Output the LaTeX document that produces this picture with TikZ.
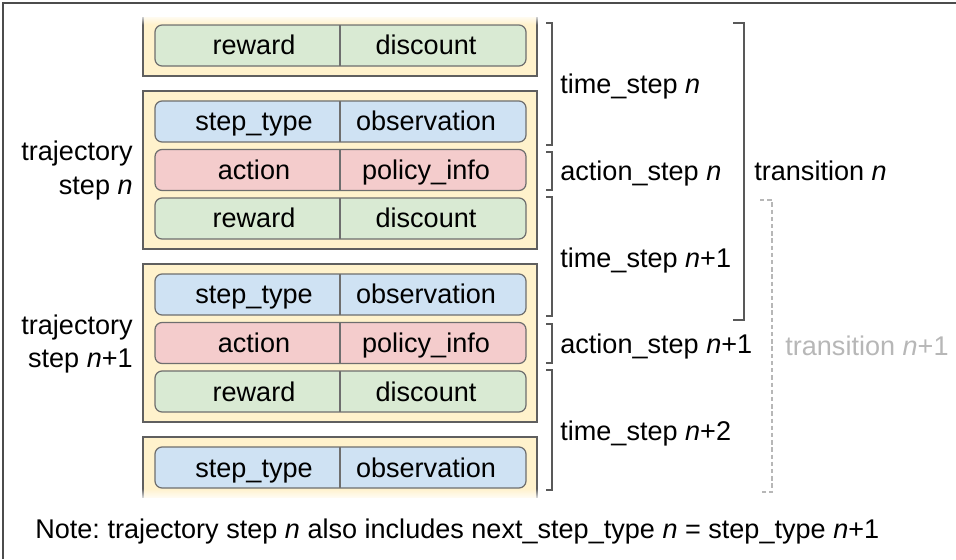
\documentclass[tikz,border=0pt]{standalone}
\usepackage{fontspec}
\setmainfont{Liberation Sans}
\usetikzlibrary{fadings}
\frenchspacing

\definecolor{boxfill}{HTML}{FFF2CC}
\definecolor{boxline}{HTML}{5F5F5F}
\definecolor{rowline}{HTML}{6E6E6E}
\definecolor{greenrow}{HTML}{D9EAD3}
\definecolor{bluerow}{HTML}{CFE2F3}
\definecolor{redrow}{HTML}{F4CCCC}
\definecolor{brkline}{HTML}{595959}
\definecolor{faintgray}{HTML}{B7B7B7}

\tikzset{
  txtfont/.style={font=\fontsize{15.4}{18.8}\selectfont},
  stepbox/.style={fill=boxfill,draw=boxline,line width=0.9pt},
  rowbox/.style={draw=rowline,line width=0.7pt,rounded corners=4pt},
  celltext/.style={txtfont,inner sep=0pt,text height=13.1pt,text depth=2.3pt},
  lbl/.style={celltext,anchor=west},
  brk/.style={draw=brkline,line width=0.8pt},
}

\begin{document}
\begin{tikzpicture}[x=0.02cm,y=-0.02cm]
\useasboundingbox (0,0) rectangle (956,559);
\draw[line width=0.6pt,black!70] (3,559) -- (3,3) -- (956,3);

% cut-off box on top
\fill[boxfill] (143,17) rectangle (537,76);
\draw[boxline,line width=0.9pt] (143,17) -- (143,76) -- (537,76) -- (537,17);
\draw[rowbox,fill=greenrow] (155,25) rectangle (526,66);
\draw[rowline,line width=0.7pt] (340,25) -- (340,66);
\node[celltext] (rw0) at (254,45.5) {reward};
\node[celltext] (dc0) at (426,45.5) {discount};
\fill[white,path fading=south] (141,14) rectangle (539,24.5);

% trajectory step n
\draw[stepbox] (143,91) rectangle (537,249);
\draw[rowbox,fill=bluerow] (155,101) rectangle (526,142);
\draw[rowline,line width=0.7pt] (340,101) -- (340,142);
\node[celltext] (st1) at (254,121.5) {step\_type};
\node[celltext] (ob1) at (426,121.5) {observation};
\draw[rowbox,fill=redrow] (155,149.5) rectangle (526,190.5);
\draw[rowline,line width=0.7pt] (340,149.5) -- (340,190.5);
\node[celltext] (ac1) at (254,170) {action};
\node[celltext] (pi1) at (426,170) {policy\_info};
\draw[rowbox,fill=greenrow] (155,198) rectangle (526,239);
\draw[rowline,line width=0.7pt] (340,198) -- (340,239);
\node[celltext] (rw1) at (254,218.5) {reward};
\node[celltext] (dc1) at (426,218.5) {discount};
\node[txtfont,anchor=east,align=right,inner sep=0pt] (traj1) at (133,170.5) {trajectory\\step \textit{n}};

% trajectory step n+1
\draw[stepbox] (143,264) rectangle (537,422);
\draw[rowbox,fill=bluerow] (155,274) rectangle (526,315);
\draw[rowline,line width=0.7pt] (340,274) -- (340,315);
\node[celltext] (st2) at (254,294.5) {step\_type};
\node[celltext] (ob2) at (426,294.5) {observation};
\draw[rowbox,fill=redrow] (155,322.5) rectangle (526,363.5);
\draw[rowline,line width=0.7pt] (340,322.5) -- (340,363.5);
\node[celltext] (ac2) at (254,343) {action};
\node[celltext] (pi2) at (426,343) {policy\_info};
\draw[rowbox,fill=greenrow] (155,371) rectangle (526,412);
\draw[rowline,line width=0.7pt] (340,371) -- (340,412);
\node[celltext] (rw2) at (254,391.5) {reward};
\node[celltext] (dc2) at (426,391.5) {discount};
\node[txtfont,anchor=east,align=right,inner sep=0pt] (traj2) at (133,344) {trajectory\\step \textit{n}+1};

% cut-off box at bottom
\fill[boxfill] (143,437) rectangle (537,498);
\draw[boxline,line width=0.9pt] (143,498) -- (143,437) -- (537,437) -- (537,498);
\draw[rowbox,fill=bluerow] (155,447) rectangle (526,488);
\draw[rowline,line width=0.7pt] (340,447) -- (340,488);
\node[celltext] (st3) at (254,467.5) {step\_type};
\node[celltext] (ob3) at (426,467.5) {observation};
\fill[white,path fading=north] (141,488.5) rectangle (539,500);

% brackets
\draw[brk] (546,23) -- (552,23) -- (552,145) -- (546,145);
\node[lbl] (ts0) at (560,84) {time\_step \textit{n}};
\draw[brk] (546,152) -- (552,152) -- (552,190) -- (546,190);
\node[lbl] (as0) at (560,171) {action\_step \textit{n}};
\draw[brk] (546,197) -- (552,197) -- (552,316) -- (546,316);
\node[lbl] (ts1) at (560,258) {time\_step \textit{n}+1};
\draw[brk] (546,324) -- (552,324) -- (552,363) -- (546,363);
\node[lbl] (as1) at (560,344) {action\_step \textit{n}+1};
\draw[brk] (546,370) -- (552,370) -- (552,490) -- (546,490);
\node[lbl] (ts2) at (560,431) {time\_step \textit{n}+2};

\draw[brk] (733,23) -- (744,23) -- (744,320) -- (733,320);
\node[lbl] (tr0) at (754,171.5) {transition \textit{n}};
\draw[brk,draw=faintgray,dash pattern=on 2.5pt off 1.6pt] (760,200) -- (772,200) -- (772,492) -- (760,492);
\node[lbl,text=faintgray] (tr1) at (785,346) {transition \textit{n}+1};

\node[txtfont,anchor=base west,inner sep=0pt] (note) at (35,538) {Note: trajectory step \textit{n} also includes next\_step\_type \textit{n} = step\_type \textit{n}+1};
\end{tikzpicture}
\end{document}
